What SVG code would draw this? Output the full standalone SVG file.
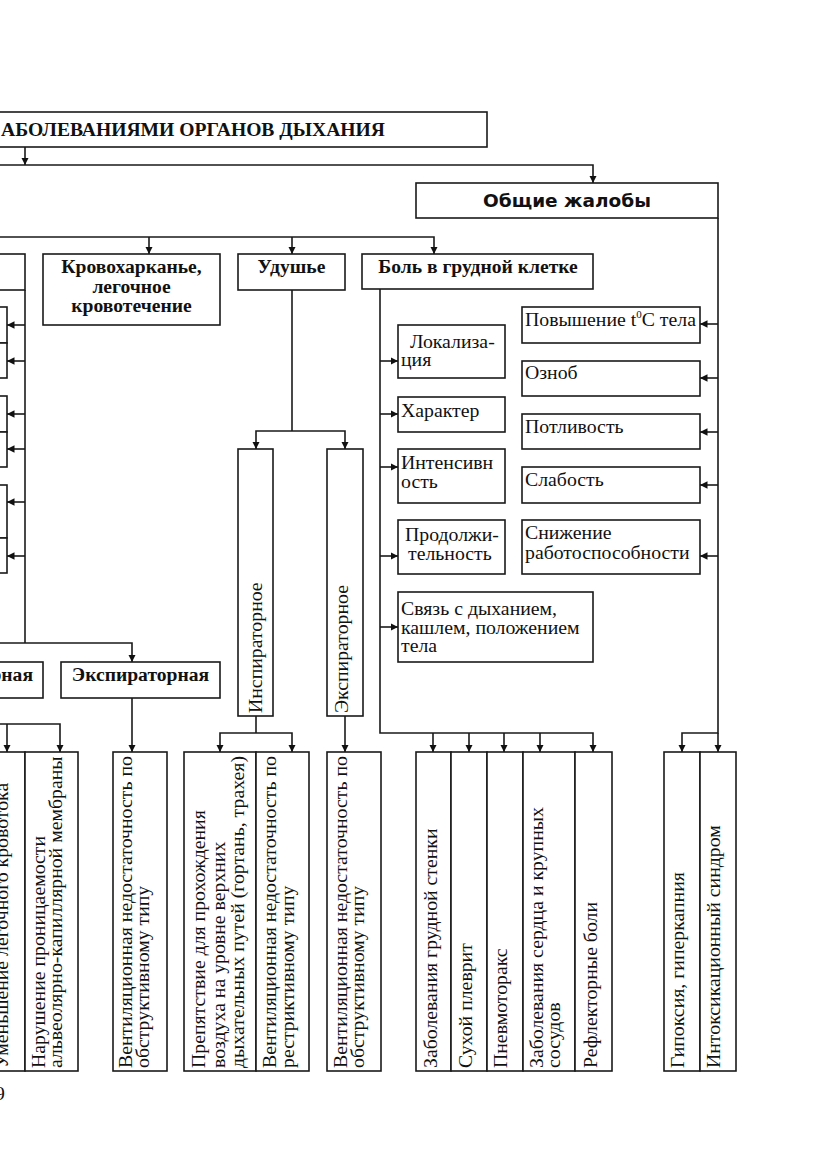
<svg xmlns="http://www.w3.org/2000/svg" width="831" height="1174" viewBox="0 0 831 1174">
<defs>
<marker id="ah" markerUnits="userSpaceOnUse" markerWidth="8" markerHeight="8" refX="7.5" refY="3.75" orient="auto">
<path d="M0,0 L7.5,3.75 L0,7.5 z" fill="#111"/>
</marker>
<style>
.box{fill:#fff;stroke:#1a1a1a;stroke-width:1.6}
.c{fill:none;stroke:#1a1a1a;stroke-width:1.6}
.a{fill:none;stroke:#1a1a1a;stroke-width:1.6;marker-end:url(#ah)}
.t{font-family:"Liberation Serif","Times New Roman",serif;font-size:19.8px;fill:#111}
.b{font-family:"Liberation Serif","Times New Roman",serif;font-size:19.6px;font-weight:bold;fill:#111}
.s{font-family:"DejaVu Sans","Liberation Sans",sans-serif;font-size:18.5px;font-weight:bold;fill:#111}
</style>
</defs>
<rect width="831" height="1174" fill="#fff"/>

<g id="connectors">
<path class="a" d="M25,147 V165"/>
<path class="a" d="M0,165 H593 V183"/>
<path class="a" d="M0,237 H434 V254"/>
<path class="a" d="M149,237 V254"/>
<path class="a" d="M292,237 V254"/>
<path class="c" d="M25,290 V643"/>
<path class="a" d="M25,325 H7"/>
<path class="a" d="M25,361 H7"/>
<path class="a" d="M25,414 H7"/>
<path class="a" d="M25,449 H7"/>
<path class="a" d="M25,502 H7"/>
<path class="a" d="M25,556 H7"/>
<path class="a" d="M0,643 H132 V662"/>
<path class="a" d="M0,724 H60 V752"/>
<path class="a" d="M7,724 V752"/>
<path class="a" d="M132,698 V752"/>
<path class="c" d="M292,290 V431"/>
<path class="a" d="M292,431 H256 V449"/>
<path class="a" d="M292,431 H345 V449"/>
<path class="c" d="M256,716 V733"/>
<path class="a" d="M256,733 H220 V752"/>
<path class="a" d="M256,733 H292 V752"/>
<path class="a" d="M345,716 V752"/>
<path class="a" d="M380,289 V733 H593 V752"/>
<path class="a" d="M433,733 V752"/>
<path class="a" d="M469,733 V752"/>
<path class="a" d="M504,733 V752"/>
<path class="a" d="M540,733 V752"/>
<path class="a" d="M380,361 H398"/>
<path class="a" d="M380,414 H398"/>
<path class="a" d="M380,467 H398"/>
<path class="a" d="M380,556 H398"/>
<path class="a" d="M380,627 H398"/>
<path class="a" d="M718,218 V733 H682 V752"/>
<path class="a" d="M718,733 V752"/>
<path class="a" d="M718,324 H700"/>
<path class="a" d="M718,378 H700"/>
<path class="a" d="M718,432 H700"/>
<path class="a" d="M718,485 H700"/>
<path class="a" d="M718,556 H700"/>
</g>

<g id="title">
<rect class="box" x="-5" y="112" width="492" height="35"/>
<text class="b" x="385" y="136" text-anchor="end" font-size="20.5">АБОЛЕВАНИЯМИ ОРГАНОВ ДЫХАНИЯ</text>
</g>

<g id="general">
<rect class="box" x="416" y="183" width="302" height="35"/>
<text class="s" x="567" y="207" text-anchor="middle">Общие жалобы</text>
</g>

<g id="leftTop">
<rect class="box" x="-5" y="254" width="30" height="36"/>
</g>

<g id="leftItems">
<rect class="box" x="-5" y="307" width="12" height="36"/>
<rect class="box" x="-5" y="343" width="12" height="35"/>
<rect class="box" x="-5" y="396" width="12" height="36"/>
<rect class="box" x="-5" y="432" width="12" height="35"/>
<rect class="box" x="-5" y="485" width="12" height="53"/>
<rect class="box" x="-5" y="538" width="12" height="35"/>
</g>

<g id="blood">
<rect class="box" x="43" y="254" width="177" height="71"/>
<text class="b" x="131.5" y="273" text-anchor="middle">Кровохарканье,</text>
<text class="b" x="131.5" y="292.5" text-anchor="middle">легочное</text>
<text class="b" x="131.5" y="312" text-anchor="middle">кровотечение</text>
</g>

<g id="suffocation">
<rect class="box" x="238" y="254" width="107" height="36"/>
<text class="b" x="291.5" y="273" text-anchor="middle">Удушье</text>
</g>

<g id="chestPain">
<rect class="box" x="362" y="254" width="231" height="35"/>
<text class="b" x="478" y="273" text-anchor="middle">Боль в грудной клетке</text>
</g>

<g id="inspDyspnea">
<rect class="box" x="-5" y="662" width="48" height="36"/>
<text class="b" x="33" y="681" text-anchor="end">рная</text>
</g>

<g id="expDyspnea">
<rect class="box" x="61" y="662" width="159" height="36"/>
<text class="b" x="140.5" y="681" text-anchor="middle">Экспираторная</text>
</g>

<g id="localization">
<rect class="box" x="398" y="325" width="107" height="53"/>
<text class="t" x="410" y="348">Локализа-</text>
<text class="t" x="401" y="366">ция</text>
</g>
<g id="character">
<rect class="box" x="398" y="397" width="107" height="35"/>
<text class="t" x="401" y="417">Характер</text>
</g>
<g id="intensity">
<rect class="box" x="398" y="449" width="107" height="54"/>
<text class="t" x="401" y="469">Интенсивн</text>
<text class="t" x="401" y="488">ость</text>
</g>
<g id="duration">
<rect class="box" x="398" y="520" width="107" height="54"/>
<text class="t" x="405" y="541">Продолжи-</text>
<text class="t" x="408" y="560">тельность</text>
</g>
<g id="relation">
<rect class="box" x="398" y="592" width="195" height="70"/>
<text class="t" x="401" y="615">Связь с дыханием,</text>
<text class="t" x="401" y="634">кашлем, положением</text>
<text class="t" x="401" y="652">тела</text>
</g>

<g id="fever">
<rect class="box" x="522" y="307" width="178" height="36"/>
<text class="t" x="525" y="326">Повышение t<tspan font-size="11" dy="-8">0</tspan><tspan dy="8">C тела</tspan></text>
</g>
<g id="chills">
<rect class="box" x="522" y="361" width="178" height="35"/>
<text class="t" x="525" y="379">Озноб</text>
</g>
<g id="sweat">
<rect class="box" x="522" y="414" width="178" height="35"/>
<text class="t" x="525" y="433">Потливость</text>
</g>
<g id="weakness">
<rect class="box" x="522" y="467" width="178" height="36"/>
<text class="t" x="525" y="486">Слабость</text>
</g>
<g id="workability">
<rect class="box" x="522" y="520" width="178" height="54"/>
<text class="t" x="525" y="539">Снижение</text>
<text class="t" x="525" y="559">работоспособности</text>
</g>

<g id="inspiratory">
<rect class="box" x="238" y="449" width="35" height="267"/>
<text class="t" transform="translate(262,713) rotate(-90)">Инспираторное</text>
</g>
<g id="expiratory">
<rect class="box" x="327" y="449" width="36" height="267"/>
<text class="t" transform="translate(348,713) rotate(-90)">Экспираторное</text>
</g>

<g id="b_flow">
<rect class="box" x="-5" y="752" width="30" height="319"/>
<text class="t" transform="translate(8,1068) rotate(-90)">Уменьшение легочного кровотока</text>
</g>
<g id="b_perm">
<rect class="box" x="25" y="752" width="53" height="319"/>
<text class="t" transform="translate(45,1068) rotate(-90)"><tspan x="0" y="0">Нарушение проницаемости</tspan><tspan x="0" y="17">альвеолярно-капиллярной мембраны</tspan></text>
</g>
<g id="b_obstr1">
<rect class="box" x="113" y="752" width="54" height="319"/>
<text class="t" transform="translate(132,1068) rotate(-90)"><tspan x="0" y="0">Вентиляционная недостаточность по</tspan><tspan x="0" y="17">обструктивному типу</tspan></text>
</g>
<g id="b_upper">
<rect class="box" x="184" y="752" width="72" height="319"/>
<text class="t" transform="translate(205,1068) rotate(-90)"><tspan x="0" y="0">Препятствие для прохождения</tspan><tspan x="0" y="19.5">воздуха на уровне верхних</tspan><tspan x="0" y="39">дыхательных путей (гортань, трахея)</tspan></text>
</g>
<g id="b_restr">
<rect class="box" x="256" y="752" width="53" height="319"/>
<text class="t" transform="translate(276,1068) rotate(-90)"><tspan x="0" y="0">Вентиляционная недостаточность по</tspan><tspan x="0" y="17.5">рестриктивному типу</tspan></text>
</g>
<g id="b_obstr2">
<rect class="box" x="327" y="752" width="54" height="319"/>
<text class="t" transform="translate(347,1068) rotate(-90)"><tspan x="0" y="0">Вентиляционная недостаточность по</tspan><tspan x="0" y="17">обструктивному типу</tspan></text>
</g>
<g id="b_wall">
<rect class="box" x="416" y="752" width="35" height="319"/>
<text class="t" transform="translate(437,1068) rotate(-90)">Заболевания грудной стенки</text>
</g>
<g id="b_pleur">
<rect class="box" x="451" y="752" width="36" height="319"/>
<text class="t" transform="translate(472,1068) rotate(-90)">Сухой плеврит</text>
</g>
<g id="b_pneumo">
<rect class="box" x="487" y="752" width="36" height="319"/>
<text class="t" transform="translate(507,1068) rotate(-90)">Пневмоторакс</text>
</g>
<g id="b_heart">
<rect class="box" x="523" y="752" width="52" height="319"/>
<text class="t" transform="translate(543,1068) rotate(-90)"><tspan x="0" y="0">Заболевания сердца и крупных</tspan><tspan x="0" y="17">сосудов</tspan></text>
</g>
<g id="b_reflex">
<rect class="box" x="575" y="752" width="37" height="319"/>
<text class="t" transform="translate(597,1068) rotate(-90)">Рефлекторные боли</text>
</g>
<g id="b_hypox">
<rect class="box" x="664" y="752" width="36" height="319"/>
<text class="t" transform="translate(684,1068) rotate(-90)">Гипоксия, гиперкапния</text>
</g>
<g id="b_intox">
<rect class="box" x="700" y="752" width="36" height="319"/>
<text class="t" transform="translate(720,1068) rotate(-90)">Интоксикационный синдром</text>
</g>

<text class="t" x="5" y="1100" text-anchor="end">9</text>
</svg>
